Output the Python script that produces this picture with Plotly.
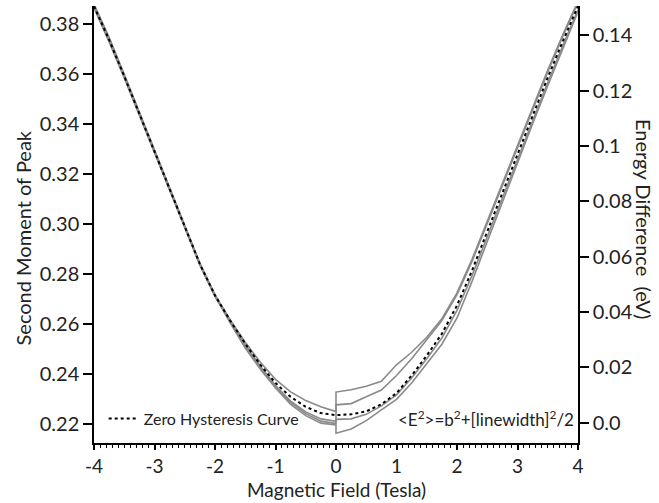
import plotly.graph_objects as go

# ---------------- data ----------------
field_left = [-4.0, -3.75, -3.5, -3.25, -3.0, -2.75, -2.5, -2.25, -2.0,
              -1.75, -1.5, -1.25, -1.0, -0.75, -0.5, -0.25, 0.0]
field_right = [0.0, 0.25, 0.5, 0.75, 1.0, 1.25, 1.5, 1.75, 2.0,
               2.25, 2.5, 2.75, 3.0, 3.25, 3.5, 3.75, 4.0]

zero_hyst_left = [0.3870, 0.3735, 0.3590, 0.3440, 0.3290, 0.3135, 0.2985, 0.2840, 0.2715,
                  0.2615, 0.2522, 0.2438, 0.2365, 0.2310, 0.2270, 0.2245, 0.2237]
zero_hyst_right = [0.2237, 0.2240, 0.2252, 0.2280, 0.2325, 0.2395, 0.2475, 0.2562, 0.2675,
                   0.2815, 0.2970, 0.3125, 0.3280, 0.3435, 0.3585, 0.3730, 0.3870]

sweep_a_left = [0.3878, 0.3745, 0.3598, 0.3446, 0.3295, 0.3140, 0.2989, 0.2844, 0.2718,
                0.2618, 0.2528, 0.2448, 0.2380, 0.2330, 0.2295, 0.2270, 0.2251]
sweep_a_right = [0.2329, 0.2338, 0.2352, 0.2372, 0.2438, 0.2488, 0.2548, 0.2622, 0.2725,
                 0.2860, 0.3010, 0.3162, 0.3315, 0.3468, 0.3615, 0.3756, 0.3890]

sweep_b_left = [0.3862, 0.3727, 0.3583, 0.3434, 0.3285, 0.3131, 0.2981, 0.2836, 0.2711,
                0.2608, 0.2510, 0.2425, 0.2350, 0.2288, 0.2243, 0.2213, 0.2203]
sweep_b_right = [0.2278, 0.2283, 0.2310, 0.2337, 0.2395, 0.2462, 0.2538, 0.2615, 0.2718,
                 0.2852, 0.3002, 0.3155, 0.3307, 0.3460, 0.3607, 0.3750, 0.3884]

sweep_c_left = [0.3874, 0.3740, 0.3594, 0.3443, 0.3292, 0.3137, 0.2986, 0.2841, 0.2714,
                0.2612, 0.2518, 0.2432, 0.2355, 0.2293, 0.2250, 0.2222, 0.2212]
sweep_c_right = [0.2220, 0.2222, 0.2240, 0.2274, 0.2318, 0.2385, 0.2462, 0.2545, 0.2655,
                 0.2795, 0.2950, 0.3105, 0.3260, 0.3415, 0.3565, 0.3712, 0.3855]

sweep_d_left = [0.3866, 0.3730, 0.3586, 0.3437, 0.3287, 0.3133, 0.2983, 0.2838, 0.2712,
                0.2605, 0.2505, 0.2420, 0.2345, 0.2280, 0.2235, 0.2205, 0.2198]
sweep_d_right = [0.2165, 0.2182, 0.2215, 0.2258, 0.2300, 0.2365, 0.2442, 0.2520, 0.2625,
                 0.2772, 0.2930, 0.3088, 0.3245, 0.3400, 0.3552, 0.3700, 0.3848]

x_tick_vals = [-4, -3, -2, -1, 0, 1, 2, 3, 4]
x_tick_text = ["-4", "-3", "-2", "-1", "0", "1", "2", "3", "4"]
y_tick_vals = [0.22, 0.24, 0.26, 0.28, 0.30, 0.32, 0.34, 0.36, 0.38]
y_tick_text = ["0.22", "0.24", "0.26", "0.28", "0.30", "0.32", "0.34", "0.36", "0.38"]
y2_tick_vals = [0.0, 0.02, 0.04, 0.06, 0.08, 0.10, 0.12, 0.14]
y2_tick_text = ["0.0", "0.02", "0.04", "0.06", "0.08", "0.1", "0.12", "0.14"]

FONT = "Lato"
TXT = "#222222"
GRAY = "#8a8a8a"

fig = go.Figure()

sweeps = [(sweep_a_left, sweep_a_right), (sweep_b_left, sweep_b_right),
          (sweep_c_left, sweep_c_right), (sweep_d_left, sweep_d_right)]
for left_vals, right_vals in sweeps:
    fig.add_trace(go.Scatter(
        x=field_left + field_right, y=left_vals + right_vals,
        mode="lines", line=dict(color=GRAY, width=1.6),
        showlegend=False, hoverinfo="skip"))

fig.add_trace(go.Scatter(
    x=field_left + field_right[1:], y=zero_hyst_left + zero_hyst_right[1:],
    mode="lines", name="Zero Hysteresis Curve",
    line=dict(color="black", width=2, dash="3px,3px"),
    showlegend=True))

# empty trace to activate the right axis
fig.add_trace(go.Scatter(x=[], y=[], yaxis="y2", showlegend=False, hoverinfo="skip"))

axis_common = dict(showgrid=False, zeroline=False, showline=True, linecolor="black",
                   linewidth=1.5, ticks="outside", tickcolor="black", tickwidth=1.5)

fig.update_layout(
    width=659, height=503,
    margin=dict(l=94, r=81, t=6, b=60),
    paper_bgcolor="white", plot_bgcolor="white",
    font=dict(family=FONT, color=TXT),
    xaxis=dict(range=[-4, 4], tickvals=x_tick_vals, ticktext=x_tick_text, ticklen=5,
               tickfont=dict(family=FONT, size=19, color=TXT),
               minor=dict(dtick=0.1, ticks="outside", ticklen=3, tickcolor="black", tickwidth=1),
               **axis_common),
    yaxis=dict(range=[0.21257, 0.38704], tickvals=y_tick_vals, ticktext=y_tick_text,
               ticklen=9, tickfont=dict(family=FONT, size=20, color=TXT), **axis_common),
    yaxis2=dict(range=[-0.0074, 0.1506], tickvals=y2_tick_vals, ticktext=y2_tick_text,
                overlaying="y", side="right", ticklen=9,
                tickfont=dict(family=FONT, size=20, color=TXT), **axis_common),
    legend=dict(x=0.02, y=0.056, xanchor="left", yanchor="middle",
                bgcolor="rgba(0,0,0,0)", font=dict(family=FONT, size=16, color=TXT)),
    showlegend=True,
)

fig.add_annotation(text="Magnetic Field (Tesla)", xref="paper", yref="paper",
                   x=0.5, y=-0.107, xanchor="center", yanchor="middle", showarrow=False,
                   font=dict(family=FONT, size=19, color=TXT))
fig.add_annotation(text="Second Moment of Peak", xref="paper", yref="paper",
                   x=-0.147, y=0.47, xanchor="center", yanchor="middle", showarrow=False,
                   textangle=-90, font=dict(family=FONT, size=20, color=TXT))
fig.add_annotation(text="Energy Difference  (eV)", xref="paper", yref="paper",
                   x=1.136, y=0.513, xanchor="center", yanchor="middle", showarrow=False,
                   textangle=90, font=dict(family=FONT, size=20, color=TXT))
fig.add_annotation(text="&lt;E<sup>2</sup>&gt;=b<sup>2</sup>+[linewidth]<sup>2</sup>/2",
                   xref="paper", yref="paper", x=0.996, y=0.056,
                   xanchor="right", yanchor="middle", showarrow=False,
                   font=dict(family=FONT, size=17, color=TXT))

fig.write_html("out.html")
